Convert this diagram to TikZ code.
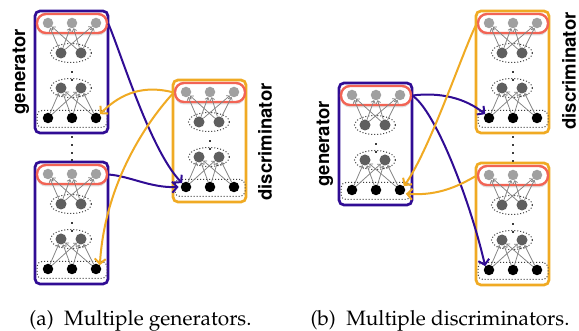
\documentclass[tikz,border=0pt]{standalone}
\usepackage[T1]{fontenc}
\usepackage{mathpazo}
\usepackage{helvet}
\usetikzlibrary{arrows.meta,shadows,shapes.geometric}

\definecolor{genc}{RGB}{48,12,148}
\definecolor{disc}{RGB}{240,170,35}
\definecolor{redl}{RGB}{242,100,85}
\definecolor{lgray}{RGB}{160,160,160}
\definecolor{mgray}{RGB}{95,95,95}
\definecolor{agray}{RGB}{130,130,130}
\definecolor{dgray}{RGB}{60,60,60}

\tikzset{
 modbox/.style={draw, line width=2.7pt, rounded corners=5pt, fill=white, minimum width=73pt, minimum height=122pt, inner sep=0pt},
 toplayer/.style={draw=redl, line width=2.4pt, fill=white, rounded corners=9pt, minimum width=70pt, minimum height=19pt, inner sep=0pt, drop shadow={opacity=0.25, shadow xshift=0pt, shadow yshift=-2.5pt}},
 ctop/.style={circle, fill=lgray, minimum size=10.5pt, inner sep=0pt},
 cmid/.style={circle, fill=mgray, minimum size=11pt, inner sep=0pt},
 cbot/.style={circle, fill=black, minimum size=10.5pt, inner sep=0pt},
 dotell/.style={ellipse, draw=dgray, dotted, line width=1pt, minimum width=41pt, minimum height=19pt, inner sep=0pt},
 dotrect/.style={draw=dgray, dotted, line width=1pt, rounded corners=5pt, minimum width=70pt, minimum height=17pt, inner sep=0pt},
 dotsq/.style={fill=dgray, minimum size=2.6pt, inner sep=0pt},
 inarr/.style={draw=agray, line width=0.75pt, -{Straight Barb[length=2.5pt,width=4.5pt]}},
 garrow/.style={draw=genc, line width=2pt, -{Straight Barb[length=5pt,width=11pt]}},
 darrow/.style={draw=disc, line width=2pt, -{Straight Barb[length=5pt,width=11pt]}},
 lbl/.style={font=\sffamily\bfseries\fontsize{18.5}{18.5}\selectfont, rotate=90, inner sep=0pt},
 capt/.style={font=\fontsize{20.8}{22}\selectfont, inner sep=0pt, anchor=base},
 net/.pic={
   \node[modbox, draw=#1] (-box) at (36.5,61) {};
   \node[toplayer] (-top) at (37,12.5) {};
   \node[dotell] (-e2) at (36,42) {};
   \node[dotell] (-e3) at (36,77) {};
   \node[dotrect] (-bb) at (37,108) {};
   \node[ctop] (-t1) at (13,12) {};
   \node[ctop] (-t2) at (37,12) {};
   \node[ctop] (-t3) at (61,12) {};
   \node[cmid] (-m1) at (26,42) {};
   \node[cmid] (-m2) at (46,42) {};
   \node[dotsq] (-d1) at (37,61) {};
   \node[dotsq] (-d2) at (37,69) {};
   \node[cmid] (-l1) at (26,77) {};
   \node[cmid] (-l2) at (46,77) {};
   \node[cbot] (-b1) at (13,107) {};
   \node[cbot] (-b2) at (37,107) {};
   \node[cbot] (-b3) at (61,107) {};
   \foreach \a in {m1,m2}{\foreach \b in {t1,t2,t3}{\draw[inarr] (-\a) -- (-\b);}}
   \foreach \a in {b1,b2,b3}{\foreach \b in {l1,l2}{\draw[inarr] (-\a) -- (-\b);}}
 }
}

\begin{document}
\begin{tikzpicture}[x=1pt,y=-1pt]
\useasboundingbox (0,0) rectangle (579,331);
\fill[white] (0,0) rectangle (579,331);

% panel (a)
\pic (ga) at (35,11) {net=genc};
\pic (gb) at (35,162) {net=genc};
\pic (da) at (173,80) {net=disc};
\foreach \y [count=\i] in {137,145,153,160}{\node[dotsq] (sa\i) at (72,\y) {};}

\node[lbl] (lga) at (21,72) {generator};
\node[lbl] (lda) at (265,142) {discriminator};

\draw[garrow] (ga-top.east) .. controls (120,50) and (150,150) .. (da-b1.north west);
\draw[garrow] (gb-top.east) .. controls (130,176) and (150,188) .. ([xshift=-2pt]da-b1.west);
\draw[darrow] (da-top.west) .. controls (145,85) and (122,92) .. (ga-b3.north east);
\draw[darrow] (da-top.west) .. controls (150,118) and (105,180) .. (gb-b3.north east);

% panel (b)
\pic (gc) at (339,83) {net=genc};
\pic (dc) at (476,11) {net=disc};
\pic (dd) at (476,163) {net=disc};
\foreach \y [count=\i] in {137,145,153,161}{\node[dotsq] (sb\i) at (513,\y) {};}

\node[lbl] (lgc) at (325,144) {generator};
\node[lbl] (ldc) at (569,71) {discriminator};

\draw[garrow] (gc-top.east) .. controls (440,92) and (465,98) .. (dc-b1.north west);
\draw[garrow] (gc-top.east) .. controls (435,110) and (470,200) .. (dd-b1.north west);
\draw[darrow] (dc-top.west) .. controls (465,45) and (430,150) .. (gc-b3.north east);
\draw[darrow] (dd-top.west) .. controls (460,185) and (440,196) .. ([xshift=2pt]gc-b3.south east);

% captions
\node[capt] (ca) at (140.5,326) {(a)\hspace{0.5em}Multiple generators.};
\node[capt] (cb) at (440,326) {(b)\hspace{0.5em}Multiple discriminators.};
\end{tikzpicture}
\end{document}
